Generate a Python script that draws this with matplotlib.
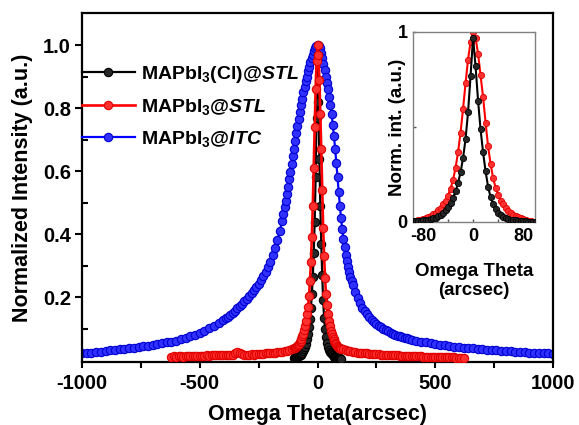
import matplotlib
matplotlib.use("Agg")
import matplotlib.pyplot as plt
import numpy as np

plt.rcParams['font.family'] = ['Liberation Sans', 'DejaVu Sans']
plt.rcParams['font.weight'] = 'bold'
plt.rcParams['axes.labelweight'] = 'bold'
plt.rcParams['mathtext.fontset'] = 'custom'
plt.rcParams['mathtext.rm'] = 'Liberation Sans:bold'
plt.rcParams['mathtext.bf'] = 'Liberation Sans:bold'
plt.rcParams['mathtext.it'] = 'Liberation Sans:italic:bold'

# ---------------- data ----------------
labels = [r'MAPbI$_3$(Cl)@$\mathit{STL}$', r'MAPbI$_3$@$\mathit{STL}$', r'MAPbI$_3$@$\mathit{ITC}$']

itc_x = [-1000, -980, -960, -940, -920, -900, -880, -860, -840, -820, -800, -780, -760, -740, -720,
         -700, -680, -660, -640, -620, -600, -580, -560, -540, -520, -500, -480, -460, -440, -420, -400,
         -390, -380, -370, -360, -350, -340, -330, -320, -310, -300, -290, -280, -270, -260, -250,
         -240, -230, -220, -210, -200, -190, -180, -170, -160, -150,
         -145, -140, -135, -130, -125, -120, -115, -110, -105, -100, -95, -90, -85, -80, -75, -70,
         -65, -60, -55, -50, -45, -40, -35, -30, -25, -20, -15, -10, -5, 0,
         5, 10, 15, 20, 25, 30, 35, 40, 45, 50, 55, 60, 65, 70, 75, 80, 85, 90, 95, 100,
         105, 110, 115, 120, 125, 130, 135, 140, 145,
         150, 160, 170, 180, 190, 200, 210, 220, 230, 240, 250, 260, 270, 280, 290, 300,
         310, 320, 330, 340, 350, 360, 370, 380, 390,
         400, 420, 440, 460, 480, 500, 520, 540, 560, 580, 600, 620, 640, 660, 680, 700,
         720, 740, 760, 780, 800, 820, 840, 860, 880, 900, 920, 940, 960, 980, 1000]
itc_y = [0.022, 0.023, 0.024, 0.026, 0.027, 0.029, 0.031, 0.032, 0.034, 0.036, 0.038, 0.040, 0.042, 0.044, 0.046,
         0.048, 0.050, 0.053, 0.056, 0.059, 0.062, 0.066, 0.070, 0.075, 0.080, 0.086, 0.093, 0.101, 0.109, 0.118, 0.128,
         0.133, 0.138, 0.144, 0.150, 0.157, 0.164, 0.171, 0.179, 0.187, 0.195, 0.203, 0.212, 0.221, 0.231, 0.242,
         0.254, 0.267, 0.281, 0.296, 0.313, 0.333, 0.355, 0.380, 0.410, 0.443,
         0.463, 0.485, 0.505, 0.528, 0.550, 0.575, 0.598, 0.622, 0.648, 0.670, 0.695, 0.720, 0.742, 0.765, 0.788, 0.810,
         0.830, 0.850, 0.868, 0.885, 0.900, 0.917, 0.930, 0.945, 0.958, 0.970, 0.980, 0.990, 0.997, 1.000,
         0.997, 0.990, 0.975, 0.960, 0.940, 0.920, 0.900, 0.880, 0.860, 0.835, 0.810, 0.780, 0.745, 0.710, 0.670, 0.625,
         0.580, 0.535, 0.490, 0.450,
         0.415, 0.385, 0.358, 0.335, 0.315, 0.297, 0.280, 0.265, 0.250,
         0.237, 0.215, 0.197, 0.181, 0.167, 0.155, 0.145, 0.136, 0.128, 0.121, 0.115, 0.109, 0.104, 0.099, 0.095, 0.091,
         0.087, 0.084, 0.081, 0.078, 0.075, 0.073, 0.071, 0.069, 0.067,
         0.065, 0.062, 0.059, 0.056, 0.053, 0.051, 0.049, 0.047, 0.045, 0.043, 0.041, 0.040, 0.038, 0.037, 0.035, 0.034,
         0.033, 0.032, 0.031, 0.030, 0.029, 0.028, 0.027, 0.026, 0.025, 0.024, 0.023, 0.022, 0.022, 0.021, 0.020]

stl_x = [-620, -610, -600, -590, -580, -570, -560, -550, -540, -530, -520, -510, -500, -490, -480, -470,
         -460, -450, -440, -430, -420, -410, -400, -390, -380, -370, -360, -350, -340, -330, -320, -310,
         -300, -290, -280, -270, -260, -250, -240, -230, -220, -210, -200, -190, -180, -170, -160, -150,
         -140, -130, -120, -110,
         -100, -96, -92, -88, -84, -80, -76, -72, -68, -64, -60, -56, -52, -48, -44, -40, -36, -32, -28,
         -24, -20, -16, -12, -8, -4, 0, 4, 8, 12, 16, 20, 24, 28, 32, 36, 40, 44, 48, 52, 56, 60, 64, 68,
         72, 76, 80, 84, 88, 92, 96, 100,
         110, 120, 130, 140, 150, 160, 170, 180, 190, 200, 210, 220, 230, 240, 250, 260, 270, 280, 290,
         300, 310, 320, 330, 340, 350, 360, 370, 380, 390, 400, 410, 420, 430, 440, 450, 460, 470, 480,
         490, 500, 510, 520, 530, 540, 550, 560, 570, 580, 590, 600, 610, 620]
stl_y = [0.010, 0.012, 0.011, 0.013, 0.012, 0.011, 0.013, 0.012, 0.013, 0.012, 0.014, 0.013, 0.012, 0.014, 0.013, 0.015,
         0.014, 0.016, 0.015, 0.016, 0.015, 0.016, 0.017, 0.016, 0.015, 0.016, 0.016, 0.022, 0.027, 0.024, 0.018, 0.017,
         0.016, 0.017, 0.018, 0.017, 0.018, 0.019, 0.019, 0.020, 0.021, 0.022, 0.022, 0.023, 0.024, 0.025, 0.026, 0.027,
         0.028, 0.030, 0.032, 0.034,
         0.037, 0.039, 0.041, 0.044, 0.047, 0.051, 0.056, 0.061, 0.068, 0.075, 0.084, 0.095, 0.108, 0.125, 0.145, 0.170,
         0.205, 0.250, 0.310, 0.390, 0.490, 0.610, 0.740, 0.860, 0.950, 1.000,
         0.970, 0.890, 0.780, 0.670, 0.540, 0.420, 0.330, 0.260, 0.210, 0.175, 0.145, 0.125, 0.108, 0.094, 0.083, 0.074,
         0.066, 0.060, 0.054, 0.050, 0.046, 0.043, 0.040, 0.038, 0.036,
         0.034, 0.032, 0.030, 0.028, 0.027, 0.025, 0.024, 0.023, 0.022, 0.021, 0.021, 0.020, 0.019, 0.019, 0.018, 0.018,
         0.017, 0.017, 0.016, 0.016, 0.016, 0.015, 0.015, 0.015, 0.014, 0.014, 0.014, 0.013, 0.013, 0.013, 0.012, 0.012,
         0.012, 0.012, 0.011, 0.011, 0.011, 0.011, 0.010, 0.010, 0.010, 0.010, 0.010, 0.009, 0.009, 0.009, 0.009, 0.009,
         0.008, 0.008, 0.008, 0.008]

cl_x = [-100, -96, -92, -88, -84, -80, -76, -72, -68, -64, -60, -56, -52, -48, -44, -40, -36, -32, -28,
        -24, -20, -16, -12, -8, -4, 0, 4, 8, 12, 16, 20, 24, 28, 32, 36, 40, 44, 48, 52, 56, 60, 64, 68,
        72, 76, 80, 84, 88, 92, 96, 100]
cl_y = [0.008, 0.009, 0.010, 0.011, 0.012, 0.013, 0.015, 0.017, 0.020, 0.024, 0.028, 0.034, 0.042, 0.052, 0.066,
        0.083, 0.105, 0.132, 0.165, 0.210, 0.265, 0.340, 0.440, 0.580, 0.770, 0.970,
        0.820, 0.640, 0.490, 0.370, 0.270, 0.190, 0.135, 0.098, 0.072, 0.054, 0.042, 0.033, 0.027, 0.022, 0.018,
        0.015, 0.013, 0.011, 0.010, 0.009, 0.008, 0.007, 0.006, 0.006, 0.005]

main_xticks = [-1000, -500, 0, 500, 1000]
main_yticks = [0.2, 0.4, 0.6, 0.8, 1.0]
inset_xticks = [-80, 0, 80]
inset_yticks = [0, 1]

# ---------------- figure ----------------
W, H = 579, 425
fig = plt.figure(figsize=(W / 100, H / 100), dpi=100)
ax = fig.add_axes([82 / W, 1 - 362 / H, 471 / W, 349 / H])

styles = [
    dict(color='black', mfc='#262626', mec='black'),
    dict(color='#ff0000', mfc='#ff3030', mec='#e00000'),
    dict(color='#0000ff', mfc='#3030ff', mec='#0000d0'),
]

hb, = ax.plot(itc_x, itc_y, '-o', lw=1.6, ms=6, mew=0.8, zorder=2, **styles[2])
hk, = ax.plot(cl_x, cl_y, '-o', lw=1.6, ms=6, mew=0.8, zorder=3, **styles[0])
hr, = ax.plot(stl_x, stl_y, '-o', lw=1.9, ms=6, mew=0.8, zorder=4, **styles[1])

ax.set_xlim(-1000, 1000)
ax.set_ylim(-0.006, 1.102)
ax.set_xticks(main_xticks)
ax.set_xticks([-750, -250, 250, 750], minor=True)
ax.set_yticks(main_yticks)
ax.set_yticks([0.1, 0.3, 0.5, 0.7, 0.9], minor=True)
ax.set_xticklabels([str(v) for v in main_xticks])
ax.set_yticklabels(['%.1f' % v for v in main_yticks])
ax.tick_params(axis='x', which='both', direction='out', length=4.5, width=1.5, labelsize=14.5, pad=4)
ax.tick_params(axis='y', which='major', direction='out', length=5, width=1.5, labelsize=14.5, pad=3)
ax.tick_params(axis='y', which='minor', direction='in', length=4, width=1.5)
for s in ax.spines.values():
    s.set_linewidth(1.6)
ax.set_xlabel('Omega Theta(arcsec)', fontsize=15.5, labelpad=8)
ax.set_ylabel('Normalized Intensity (a.u.)', fontsize=15.5, labelpad=7)

leg = ax.legend([hk, hr, hb], labels, loc='upper left', bbox_to_anchor=(0.0, 0.855),
                frameon=False, fontsize=14, handlelength=2.7, handletextpad=0.35,
                labelspacing=0.62, borderpad=0, borderaxespad=0, numpoints=1)

# ---------------- inset ----------------
ax2 = fig.add_axes([413 / W, 1 - 222 / H, 122 / W, 190 / H])
cl_min = min(cl_y)
stl_win = [y for x, y in zip(stl_x, stl_y) if -100 <= x <= 100]
stl_min = min(stl_win)
stl_in_x = [x for x in stl_x if -100 <= x <= 100]
stl_in_y = [(y - stl_min) / (1 - stl_min) for y in stl_win]
cl_in_y = [(y - cl_min) / (1 - cl_min) for y in cl_y]
ax2.plot(stl_in_x, stl_in_y, '-o', lw=1.5, ms=4.5, mew=0.6, zorder=2, **styles[1])
ax2.plot(cl_x, cl_in_y, '-o', lw=1.5, ms=4.5, mew=0.6, zorder=3, **styles[0])
ax2.set_xlim(-96, 99)
ax2.set_ylim(0, 1)
ax2.set_xticks(inset_xticks)
ax2.set_xticks([-40, 40], minor=True)
ax2.set_yticks(inset_yticks)
ax2.set_yticks([0.5], minor=True)
ax2.set_xticklabels(['-80', '0', '80'])
ax2.set_yticklabels(['0', '1'])
ax2.tick_params(axis='both', which='both', direction='in', length=2.5, width=1, colors='#555555',
                labelcolor='black', labelsize=13, pad=4)
for s in ax2.spines.values():
    s.set_linewidth(1.0)
    s.set_color('#808080')
ax2.set_xlabel('Omega Theta\n(arcsec)', fontsize=13.5, labelpad=13, linespacing=1.15)
ax2.set_ylabel('Norm. int. (a.u.)', fontsize=13.5, labelpad=-6)

fig.savefig('out.png', dpi=100)
